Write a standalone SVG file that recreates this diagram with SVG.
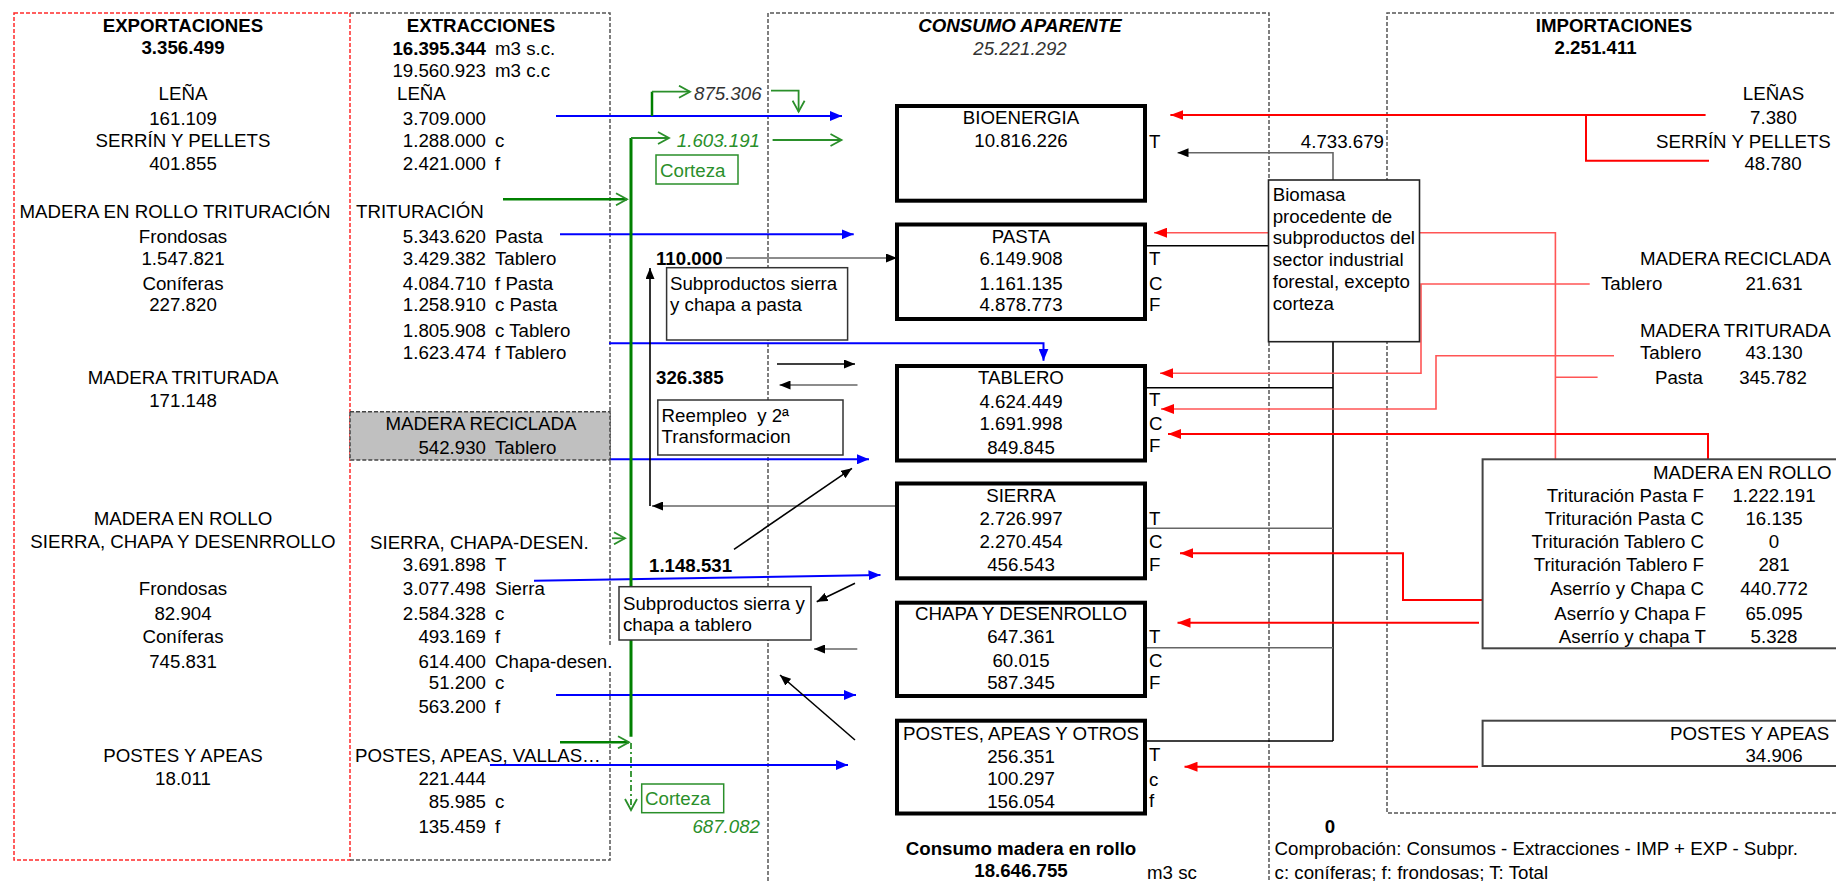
<svg xmlns="http://www.w3.org/2000/svg" width="1836" height="881" viewBox="0 0 1836 881">
<style>
.t{font-family:"Liberation Sans",Arial,sans-serif;font-size:18.7px;fill:#000}
.b{font-weight:bold}
.i{font-style:italic}
.m{text-anchor:middle}
.e{text-anchor:end}
.g{fill:#2a8f2a}
.dg{fill:#333}
.rd{fill:none;stroke:#ff2a2a;stroke-width:1.5;stroke-dasharray:4 2}
.gd{fill:none;stroke:#555;stroke-width:1.5;stroke-dasharray:4 2}
.cb{fill:#fff;stroke:#000;stroke-width:4}
.nb{fill:#fff;stroke:#333;stroke-width:1.5}
.gb{fill:#fff;stroke:#2a8f2a;stroke-width:1.5}
.bl{fill:none;stroke:#0000ff;stroke-width:2;marker-end:url(#hb)}
.rl{fill:none;stroke:#ff0000;stroke-width:2}
.rlp{fill:none;stroke:#ff5555;stroke-width:1.6}
.ra{marker-end:url(#hr)}
.kl{fill:none;stroke:#000;stroke-width:1.6}
.gl{fill:none;stroke:#666;stroke-width:1.6}
.ka{marker-end:url(#hk)}
.gr{fill:none;stroke:#2a8f2a;stroke-width:1.8}
.ga{marker-end:url(#hg)}
.gdown{marker-end:url(#hg)}
</style>
<defs>
<marker id="hb" markerUnits="userSpaceOnUse" markerWidth="12" markerHeight="10" refX="12" refY="5" orient="auto"><path d="M0,0 L12,5 L0,10 Z" fill="#0000ff"/></marker>
<marker id="hr" markerUnits="userSpaceOnUse" markerWidth="13" markerHeight="10" refX="13" refY="5" orient="auto"><path d="M0,0 L13,5 L0,10 Z" fill="#ff0000"/></marker>
<marker id="hk" markerUnits="userSpaceOnUse" markerWidth="11" markerHeight="9" refX="11" refY="4.5" orient="auto"><path d="M0,0 L11,4.5 L0,9 Z" fill="#000"/></marker>
<marker id="hg" markerUnits="userSpaceOnUse" markerWidth="14" markerHeight="14" refX="12" refY="7" orient="auto"><path d="M1,1 L12,7 L1,13" fill="none" stroke="#2a8f2a" stroke-width="1.8"/></marker>
</defs>
<rect width="1836" height="881" fill="#fff"/>

<g id="frames">
<path class="rd" d="M14,13 H350 V860 H14 Z"/>
<path class="gd" d="M350,13 H610 V647"/>
<path class="gd" d="M610,672 V860 H350"/>
<path class="gd" d="M768,881 V13 H1269 V881"/>
<path class="gd" d="M1840,13 H1387 V813 H1840"/>
</g>

<g id="connectors">
<!-- blue extraction flows -->
<path class="bl" d="M556,116 H842"/>
<path class="bl" d="M560,234.3 H853.7"/>
<path class="bl" d="M609,343.3 H1043.5 V360.7"/>
<path class="bl" d="M609,459.3 H869"/>
<path class="bl" d="M534,580.7 L880.5,575"/>
<path class="bl" d="M556,695 H856"/>
<path class="bl" d="M490,765 H848"/>
<!-- green bark / biomass flows -->
<path d="M631,138 V736.7" fill="none" stroke="#008000" stroke-width="3"/>
<path class="gr ga" d="M631,138 H669"/>
<path d="M652,116 V91.7" fill="none" stroke="#008000" stroke-width="2.5"/>
<path class="gr ga" d="M652,91.7 H690"/>
<path class="gr ga" d="M771,90.7 H798.6 V111.7"/>
<path class="gr ga" d="M772.6,140 H841.5"/>
<path class="ga" d="M503,199.3 H627" fill="none" stroke="#008000" stroke-width="2.5"/>
<path class="gr ga" d="M612,538.3 H625"/>
<path class="ga" d="M560,742.3 H629" fill="none" stroke="#008000" stroke-width="2.5"/>
<path class="gr ga" d="M631,743 V810" stroke-dasharray="6 3 2 3"/>
<!-- black / grey byproduct flows -->
<path class="gl ka" d="M726,258 H897"/>
<path class="gl ka" d="M897,506 H652"/>
<path class="kl ka" d="M650,506 V268"/>
<path class="kl ka" d="M777,364 H855"/>
<path class="gl ka" d="M857.5,385 H779.5"/>
<path class="kl ka" d="M734,549.3 L852,468.3"/>
<path class="kl ka" d="M855,583.3 L816.7,601.7"/>
<path class="gl ka" d="M857.3,649 H814"/>
<path class="kl ka" d="M855,740 L780,675"/>
<path class="gl ka" d="M1333,180 V152.7 H1177.5"/>
<path class="kl" d="M1145,245.7 H1268"/>
<path class="kl" d="M1333,342 V741"/>
<path class="kl" d="M1145,387.7 H1333"/>
<path class="gl" d="M1145,528.3 H1333"/>
<path class="gl" d="M1145,647.7 H1333"/>
<path class="kl" d="M1145,741 H1333"/>
<!-- red import flows -->
<path class="rl ra" d="M1705.6,115 H1170.4"/>
<path class="rl" d="M1586,115 V160.7 H1709"/>
<path class="rlp ra" d="M1555.4,459.3 V232.7 H1154"/>
<path class="rlp" d="M1555.4,377.3 H1597.6"/>
<path class="rlp ra" d="M1589.7,284 H1421 V373.3 H1160"/>
<path class="rlp ra" d="M1614,355.7 H1436 V409 H1161"/>
<path class="rl ra" d="M1708,459.3 V434 H1168"/>
<path class="rl ra" d="M1482.6,600 H1403 V553.3 H1180"/>
<path class="rl ra" d="M1479,622.7 H1177.5"/>
<path class="rl ra" d="M1478,766.7 H1184.5"/>
</g>

<g id="exportaciones">
<text class="t b m" x="183" y="32">EXPORTACIONES</text>
<text class="t b m" x="183" y="54">3.356.499</text>
<text class="t m" x="183" y="100">LEÑA</text>
<text class="t m" x="183" y="124.7">161.109</text>
<text class="t m" x="183" y="147">SERRÍN Y PELLETS</text>
<text class="t m" x="183" y="170">401.855</text>
<text class="t m" x="175" y="218">MADERA EN ROLLO TRITURACIÓN</text>
<text class="t m" x="183" y="242.7">Frondosas</text>
<text class="t m" x="183" y="265.3">1.547.821</text>
<text class="t m" x="183" y="289.7">Coníferas</text>
<text class="t m" x="183" y="311">227.820</text>
<text class="t m" x="183" y="384.3">MADERA TRITURADA</text>
<text class="t m" x="183" y="407">171.148</text>
<text class="t m" x="183" y="525.3">MADERA EN ROLLO</text>
<text class="t m" x="183" y="547.7">SIERRA, CHAPA Y DESENRROLLO</text>
<text class="t m" x="183" y="595.3">Frondosas</text>
<text class="t m" x="183" y="620.3">82.904</text>
<text class="t m" x="183" y="642.7">Coníferas</text>
<text class="t m" x="183" y="667.7">745.831</text>
<text class="t m" x="183" y="762">POSTES Y APEAS</text>
<text class="t m" x="183" y="785.3">18.011</text>
</g>

<g id="extracciones">
<text class="t b m" x="481" y="32">EXTRACCIONES</text>
<text class="t b e" x="486" y="54.7">16.395.344</text><text class="t" x="495" y="54.7">m3 s.c.</text>
<text class="t e" x="486" y="77">19.560.923</text><text class="t" x="495" y="77">m3 c.c</text>
<text class="t" x="397" y="99.7">LEÑA</text>
<text class="t e" x="486" y="124.7">3.709.000</text>
<text class="t e" x="486" y="147">1.288.000</text><text class="t" x="495" y="147">c</text>
<text class="t e" x="486" y="170">2.421.000</text><text class="t" x="495" y="170">f</text>
<text class="t" x="356" y="218">TRITURACIÓN</text>
<text class="t e" x="486" y="242.7">5.343.620</text><text class="t" x="495" y="242.7">Pasta</text>
<text class="t e" x="486" y="265.3">3.429.382</text><text class="t" x="495" y="265.3">Tablero</text>
<text class="t e" x="486" y="289.7">4.084.710</text><text class="t" x="495" y="289.7">f Pasta</text>
<text class="t e" x="486" y="311">1.258.910</text><text class="t" x="495" y="311">c Pasta</text>
<text class="t e" x="486" y="337">1.805.908</text><text class="t" x="495" y="337">c Tablero</text>
<text class="t e" x="486" y="358.7">1.623.474</text><text class="t" x="495" y="358.7">f Tablero</text>
<text class="t" x="370" y="548.7">SIERRA, CHAPA-DESEN.</text>
<text class="t e" x="486" y="571">3.691.898</text><text class="t" x="495" y="571">T</text>
<text class="t e" x="486" y="595.3">3.077.498</text><text class="t" x="495" y="595.3">Sierra</text>
<text class="t e" x="486" y="620.3">2.584.328</text><text class="t" x="495" y="620.3">c</text>
<text class="t e" x="486" y="642.7">493.169</text><text class="t" x="495" y="642.7">f</text>
<text class="t e" x="486" y="667.7">614.400</text><text class="t" x="495" y="667.7">Chapa-desen.</text>
<text class="t e" x="486" y="688.7">51.200</text><text class="t" x="495" y="688.7">c</text>
<text class="t e" x="486" y="713">563.200</text><text class="t" x="495" y="713">f</text>
<text class="t" x="355" y="762">POSTES, APEAS, VALLAS…</text>
<text class="t e" x="486" y="785.3">221.444</text>
<text class="t e" x="486" y="807.7">85.985</text><text class="t" x="495" y="807.7">c</text>
<text class="t e" x="486" y="832.7">135.459</text><text class="t" x="495" y="832.7">f</text>
</g>

<g id="madera-reciclada">
<rect x="350" y="411.7" width="260" height="48.3" fill="#c0c0c0" stroke="#444" stroke-width="1.5" stroke-dasharray="4 2"/>
<text class="t m" x="481" y="430.3">MADERA RECICLADA</text>
<text class="t e" x="486" y="453.7">542.930</text><text class="t" x="495" y="453.7">Tablero</text>
</g>

<g id="consumo-aparente">
<text class="t b i m" x="1020" y="32">CONSUMO APARENTE</text>
<text class="t i m dg" x="1020" y="54.5">25.221.292</text>
</g>

<g id="bioenergia">
<rect class="cb" x="897" y="106" width="248" height="94.7"/>
<text class="t m" x="1021" y="124.3">BIOENERGIA</text>
<text class="t m" x="1021" y="147">10.816.226</text>
<text class="t" x="1149" y="147.7">T</text>
</g>

<g id="pasta">
<rect class="cb" x="897" y="224.5" width="248" height="94.5"/>
<text class="t m" x="1021" y="242.7">PASTA</text>
<text class="t m" x="1021" y="265.3">6.149.908</text>
<text class="t m" x="1021" y="289.7">1.161.135</text>
<text class="t m" x="1021" y="311">4.878.773</text>
<text class="t" x="1149" y="265.3">T</text>
<text class="t" x="1149" y="289.7">C</text>
<text class="t" x="1149" y="311.3">F</text>
</g>

<g id="tablero">
<rect class="cb" x="897" y="366" width="248" height="94.5"/>
<text class="t m" x="1021" y="384.3">TABLERO</text>
<text class="t m" x="1021" y="407.7">4.624.449</text>
<text class="t m" x="1021" y="430.3">1.691.998</text>
<text class="t m" x="1021" y="453.7">849.845</text>
<text class="t" x="1149" y="406.3">T</text>
<text class="t" x="1149" y="430.3">C</text>
<text class="t" x="1149" y="452">F</text>
</g>

<g id="sierra">
<rect class="cb" x="897" y="483.5" width="248" height="94.8"/>
<text class="t m" x="1021" y="502">SIERRA</text>
<text class="t m" x="1021" y="525.3">2.726.997</text>
<text class="t m" x="1021" y="547.7">2.270.454</text>
<text class="t m" x="1021" y="571">456.543</text>
<text class="t" x="1149" y="525.3">T</text>
<text class="t" x="1149" y="547.7">C</text>
<text class="t" x="1149" y="571">F</text>
</g>

<g id="chapa">
<rect class="cb" x="897" y="602.7" width="248" height="93.3"/>
<text class="t m" x="1021" y="620.3">CHAPA Y DESENROLLO</text>
<text class="t m" x="1021" y="643">647.361</text>
<text class="t m" x="1021" y="667">60.015</text>
<text class="t m" x="1021" y="688.7">587.345</text>
<text class="t" x="1149" y="643">T</text>
<text class="t" x="1149" y="667">C</text>
<text class="t" x="1149" y="688.7">F</text>
</g>

<g id="postes">
<rect class="cb" x="897" y="720.7" width="248" height="92.8"/>
<text class="t m" x="1021" y="739.7">POSTES, APEAS Y OTROS</text>
<text class="t m" x="1021" y="762.7">256.351</text>
<text class="t m" x="1021" y="785.3">100.297</text>
<text class="t m" x="1021" y="807.7">156.054</text>
<text class="t" x="1149" y="761">T</text>
<text class="t" x="1149" y="786">c</text>
<text class="t" x="1149" y="807">f</text>
</g>

<g id="consumo-rollo">
<text class="t b m" x="1021" y="855.3">Consumo madera en rollo</text>
<text class="t b m" x="1021" y="877">18.646.755</text>
<text class="t" x="1147" y="878.7">m3 sc</text>
</g>

<g id="subproductos-pasta">
<rect class="nb" x="666.6" y="267.7" width="181" height="72.3"/>
<text class="t" x="670" y="289.7">Subproductos sierra</text>
<text class="t" x="670" y="311">y chapa a pasta</text>
</g>

<g id="reempleo">
<rect class="nb" x="657.8" y="400" width="185.2" height="55"/>
<text class="t" x="661.6" y="422" xml:space="preserve">Reempleo  y 2ª</text>
<text class="t" x="661.6" y="442.7">Transformacion</text>
</g>

<g id="subproductos-tablero">
<rect class="nb" x="619" y="586.7" width="192" height="53.3"/>
<text class="t" x="623" y="609.7">Subproductos sierra y</text>
<text class="t" x="623" y="631">chapa a tablero</text>
</g>

<g id="corteza-1">
<rect class="gb" x="656" y="155" width="82" height="29"/>
<text class="t g" x="660" y="177">Corteza</text>
</g>

<g id="corteza-2">
<rect class="gb" x="641.7" y="784" width="82" height="28.7"/>
<text class="t g" x="645" y="805.3">Corteza</text>
</g>

<g id="biomasa">
<rect x="1268.5" y="180" width="151" height="161.7" fill="#fff" stroke="#222" stroke-width="1.6"/>
<text class="t" x="1272.7" y="201.3">Biomasa</text>
<text class="t" x="1272.7" y="222.7">procedente de</text>
<text class="t" x="1272.7" y="244.3">subproductos del</text>
<text class="t" x="1272.7" y="266">sector industrial</text>
<text class="t" x="1272.7" y="287.7">forestal, excepto</text>
<text class="t" x="1272.7" y="309.7">corteza</text>
</g>

<g id="importaciones">
<text class="t b m" x="1614" y="32">IMPORTACIONES</text>
<text class="t b m" x="1595.6" y="54.3">2.251.411</text>
<text class="t m" x="1773.5" y="100.3">LEÑAS</text>
<text class="t m" x="1773.5" y="124.3">7.380</text>
<text class="t" x="1656" y="147.7">SERRÍN Y PELLETS</text>
<text class="t m" x="1773" y="170.3">48.780</text>
<text class="t" x="1640" y="265.3">MADERA RECICLADA</text>
<text class="t" x="1601" y="290.3">Tablero</text>
<text class="t m" x="1774" y="290.3">21.631</text>
<text class="t" x="1640" y="337">MADERA TRITURADA</text>
<text class="t" x="1640" y="358.7">Tablero</text>
<text class="t m" x="1774" y="358.7">43.130</text>
<text class="t" x="1655" y="384.3">Pasta</text>
<text class="t m" x="1773" y="384.3">345.782</text>
</g>

<g id="madera-rollo-imp">
<rect x="1482.6" y="459.3" width="360" height="189" fill="#fff" stroke="#444" stroke-width="2"/>
<text class="t" x="1653" y="478.7">MADERA EN ROLLO</text>
<text class="t e" x="1704" y="502">Trituración Pasta F</text><text class="t m" x="1774" y="502">1.222.191</text>
<text class="t e" x="1704" y="525.3">Trituración Pasta C</text><text class="t m" x="1774" y="525.3">16.135</text>
<text class="t e" x="1704" y="547.7">Trituración Tablero C</text><text class="t m" x="1774" y="547.7">0</text>
<text class="t e" x="1704" y="571">Trituración Tablero F</text><text class="t m" x="1774" y="571">281</text>
<text class="t e" x="1704" y="595.3">Aserrío y Chapa C</text><text class="t m" x="1774" y="595.3">440.772</text>
<text class="t e" x="1706" y="620.3">Aserrío y Chapa F</text><text class="t m" x="1774" y="620.3">65.095</text>
<text class="t e" x="1706" y="643">Aserrío y chapa T</text><text class="t m" x="1774" y="643">5.328</text>
</g>

<g id="postes-imp">
<rect x="1482.6" y="720.7" width="360" height="45.3" fill="#fff" stroke="#444" stroke-width="2"/>
<text class="t" x="1670" y="739.7">POSTES Y APEAS</text>
<text class="t m" x="1774" y="762">34.906</text>
</g>

<g id="labels">
<text class="t i dg" x="694" y="99.7">875.306</text>
<text class="t i g e" x="760" y="147">1.603.191</text>
<text class="t i g e" x="760" y="832.7">687.082</text>
<text class="t b" x="656" y="265.3">110.000</text>
<text class="t b" x="656" y="384.3">326.385</text>
<text class="t b" x="649" y="572">1.148.531</text>
<text class="t e" x="1384" y="147.7">4.733.679</text>
</g>

<g id="legend">
<text class="t b m" x="1330" y="832.7">0</text>
<text class="t" x="1274.6" y="855.3">Comprobación: Consumos - Extracciones - IMP + EXP - Subpr.</text>
<text class="t" x="1274.6" y="878.7">c: coníferas; f: frondosas; T: Total</text>
</g>
</svg>
